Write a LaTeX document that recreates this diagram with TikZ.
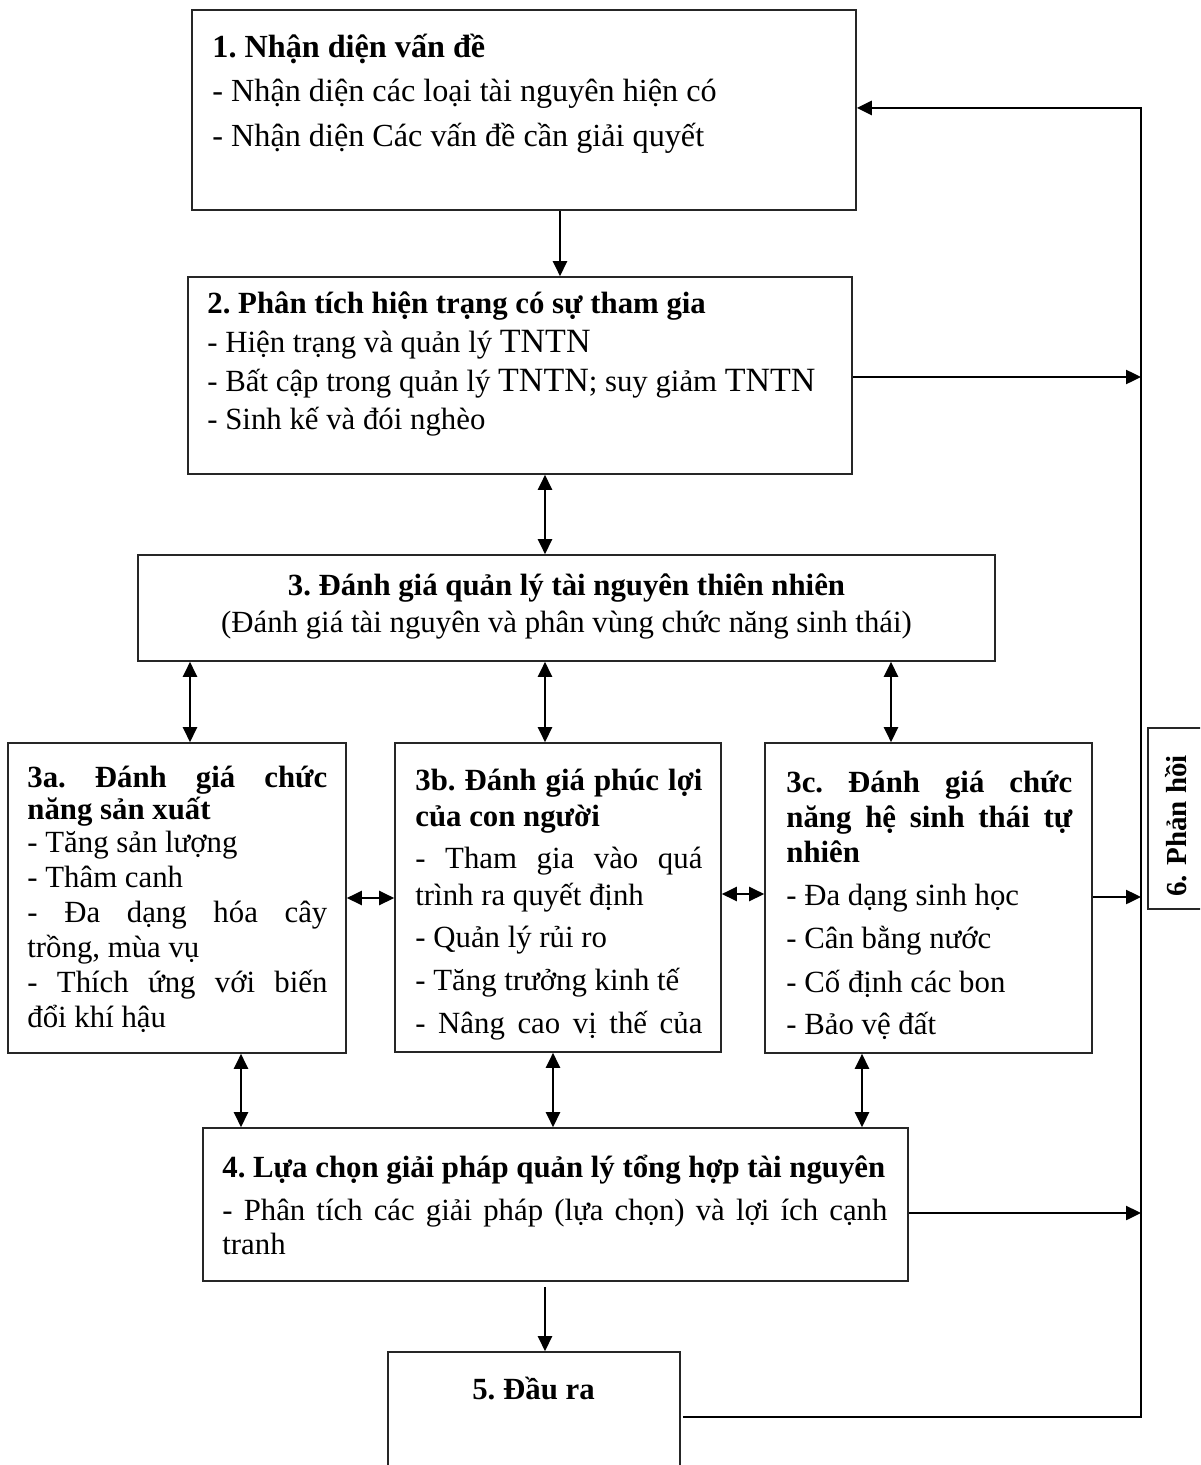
\documentclass[tikz,border=0pt]{standalone}
\usepackage{fontspec}
\setmainfont{Liberation Serif}
\usetikzlibrary{arrows.meta,fit}
\newcommand{\TNTN}{{\fontsize{17}{18}\selectfont TNTN}}
\begin{document}
\begin{tikzpicture}[x=0.5pt,y=-0.5pt,
  box/.style={draw=black!85, line width=0.8pt, inner sep=0pt},
  txt/.style={inner sep=0pt, anchor=base west, font=\fontsize{15.4}{18}\selectfont\frenchspacing},
  bigtxt/.style={txt, font=\fontsize{16.1}{18}\selectfont\frenchspacing},
  ctxt/.style={inner sep=0pt, anchor=base, font=\fontsize{15.4}{18}\selectfont\frenchspacing},
  arr/.style={line width=1.2pt, -{Triangle[length=7.5pt,width=7pt]}},
  darr/.style={line width=1.2pt, {Triangle[length=7.5pt,width=7pt]}-{Triangle[length=7.5pt,width=7pt]}},
  fb/.style={line width=1.4pt, -{Triangle[length=7.5pt,width=7pt]}},
]
\useasboundingbox (0,0) rectangle (1200,1465);
\clip (0,0) rectangle (1200,1465);
\fill[white] (0,0) rectangle (1200,1465);

% boxes
\node[box, fit={(192,10)(856,210)}] (b1) {};
\node[box, fit={(188,277)(852,474)}] (b2) {};
\node[box, fit={(138,555)(995,661)}] (b3) {};
\node[box, fit={(8,743)(346,1053)}] (b3a) {};
\node[box, fit={(395,743)(721,1052)}] (b3b) {};
\node[box, fit={(765,743)(1092,1053)}] (b3c) {};
\node[box, fit={(203,1128)(908,1281)}] (b4) {};
\node[box, fit={(388,1352)(680,1500)}] (b5) {};
\node[box, fit={(1148,728)(1215,909)}] (b6) {};

% helper coordinates
\coordinate (c560) at (560,0);
\coordinate (c545) at (545,0);
\coordinate (c190) at (190,0);
\coordinate (c891) at (891,0);
\coordinate (c241) at (241,0);
\coordinate (c553) at (553,0);
\coordinate (c862) at (862,0);
\coordinate (r377) at (0,377);
\coordinate (r898) at (0,898);
\coordinate (r894) at (0,894);
\coordinate (r897) at (0,897);
\coordinate (r1213) at (0,1213);
\coordinate (vtop) at (1141,108);
\coordinate (vbot) at (1141,1417);

% texts box 1
\node[bigtxt] (t1a) at (212,58) {\bfseries 1. Nhận diện vấn đề};
\node[bigtxt] (t1b) at (212,102) {- Nhận diện các loại tài nguyên hiện có};
\node[bigtxt] (t1c) at (212,147) {- Nhận diện Các vấn đề cần giải quyết};

% box 2
\node[txt] (t2a) at (207,314) {\bfseries 2. Phân tích hiện trạng có sự tham gia};
\node[txt] (t2b) at (207,352) {- Hiện trạng và quản lý \TNTN};
\node[txt] (t2c) at (207,391) {- Bất cập trong quản lý \TNTN; suy giảm \TNTN};
\node[txt] (t2d) at (207,429) {- Sinh kế và đói nghèo};

% box 3
\node[ctxt] (t3a) at (566.5,595) {\bfseries 3. Đánh giá quản lý tài nguyên thiên nhiên};
\node[ctxt] (t3b) at (566.5,632) {(Đánh giá tài nguyên và phân vùng chức năng sinh thái)};

% box 3a
\node[txt] (t3aa) at (27,787) {\makebox[150pt][s]{\bfseries 3a. Đánh giá chức}};
\node[txt] (t3ab) at (27,819) {\bfseries năng sản xuất};
\node[txt] (t3ac) at (27,852) {- Tăng sản lượng};
\node[txt] (t3ad) at (27,887) {- Thâm canh};
\node[txt] (t3ae) at (27,922) {\makebox[150pt][s]{- Đa dạng hóa cây}};
\node[txt] (t3af) at (27,957) {trồng, mùa vụ};
\node[txt] (t3ag) at (27,992) {\makebox[150pt][s]{- Thích ứng với biến}};
\node[txt] (t3ah) at (27,1027) {đổi khí hậu};

% box 3b
\node[txt] (t3ba) at (415,790) {\makebox[143.5pt][s]{\bfseries 3b. Đánh giá phúc lợi}};
\node[txt] (t3bb) at (415,826) {\bfseries của con người};
\node[txt] (t3bc) at (415,868) {\makebox[143.5pt][s]{- Tham gia vào quá}};
\node[txt] (t3bd) at (415,905) {trình ra quyết định};
\node[txt] (t3be) at (415,947) {- Quản lý rủi ro};
\node[txt] (t3bf) at (415,990) {- Tăng trưởng kinh tế};
\node[txt] (t3bg) at (415,1033) {\makebox[143.5pt][s]{- Nâng cao vị thế của}};

% box 3c
\node[txt] (t3ca) at (786,792) {\makebox[143pt][s]{\bfseries 3c. Đánh giá chức}};
\node[txt] (t3cb) at (786,827) {\makebox[143pt][s]{\bfseries năng hệ sinh thái tự}};
\node[txt] (t3cc) at (786,862) {\bfseries nhiên};
\node[txt] (t3cd) at (786,905) {- Đa dạng sinh học};
\node[txt] (t3ce) at (786,948) {- Cân bằng nước};
\node[txt] (t3cf) at (786,992) {- Cố định các bon};
\node[txt] (t3cg) at (786,1034) {- Bảo vệ đất};

% box 4
\node[txt] (t4a) at (222,1177) {\bfseries 4. Lựa chọn giải pháp quản lý tổng hợp tài nguyên};
\node[txt] (t4b) at (222,1220) {\makebox[332.5pt][s]{- Phân tích các giải pháp (lựa chọn) và lợi ích cạnh}};
\node[txt] (t4c) at (222,1254) {tranh};

% box 5
\node[ctxt] (t5) at (533.5,1399) {\bfseries 5. Đầu ra};

% box 6
\node[inner sep=0pt, rotate=90, font=\fontsize{14.5}{18}\selectfont\bfseries] (t6) at (1176,826) {6. Phản hồi};

% connectors
\draw[arr] (b1.south -| c560) -- (b2.north -| c560);
\draw[darr] (b2.south -| c545) -- (b3.north -| c545);
\draw[darr] (b3.south -| c190) -- (b3a.north -| c190);
\draw[darr] (b3.south -| c545) -- (b3b.north -| c545);
\draw[darr] (b3.south -| c891) -- (b3c.north -| c891);
\draw[darr] (b3a.east |- r898) -- (b3b.west |- r898);
\draw[darr] (b3b.east |- r894) -- (b3c.west |- r894);
\draw[arr] (b3c.east |- r897) -- (vtop |- r897);
\draw[darr] (b3a.south -| c241) -- (b4.north -| c241);
\draw[darr] (b3b.south -| c553) -- (b4.north -| c553);
\draw[darr] (b3c.south -| c862) -- (b4.north -| c862);
\draw[arr] (b2.east |- r377) -- (vtop |- r377);
\draw[arr] (b4.east |- r1213) -- (vtop |- r1213);
\draw[arr, shorten <=2.5pt] (b4.south -| c545) -- (b5.north -| c545);
\draw[fb] ([xshift=1pt]b5.east |- vbot) -- (vbot) -- (vtop) -- (b1.east |- vtop);
\end{tikzpicture}
\end{document}
